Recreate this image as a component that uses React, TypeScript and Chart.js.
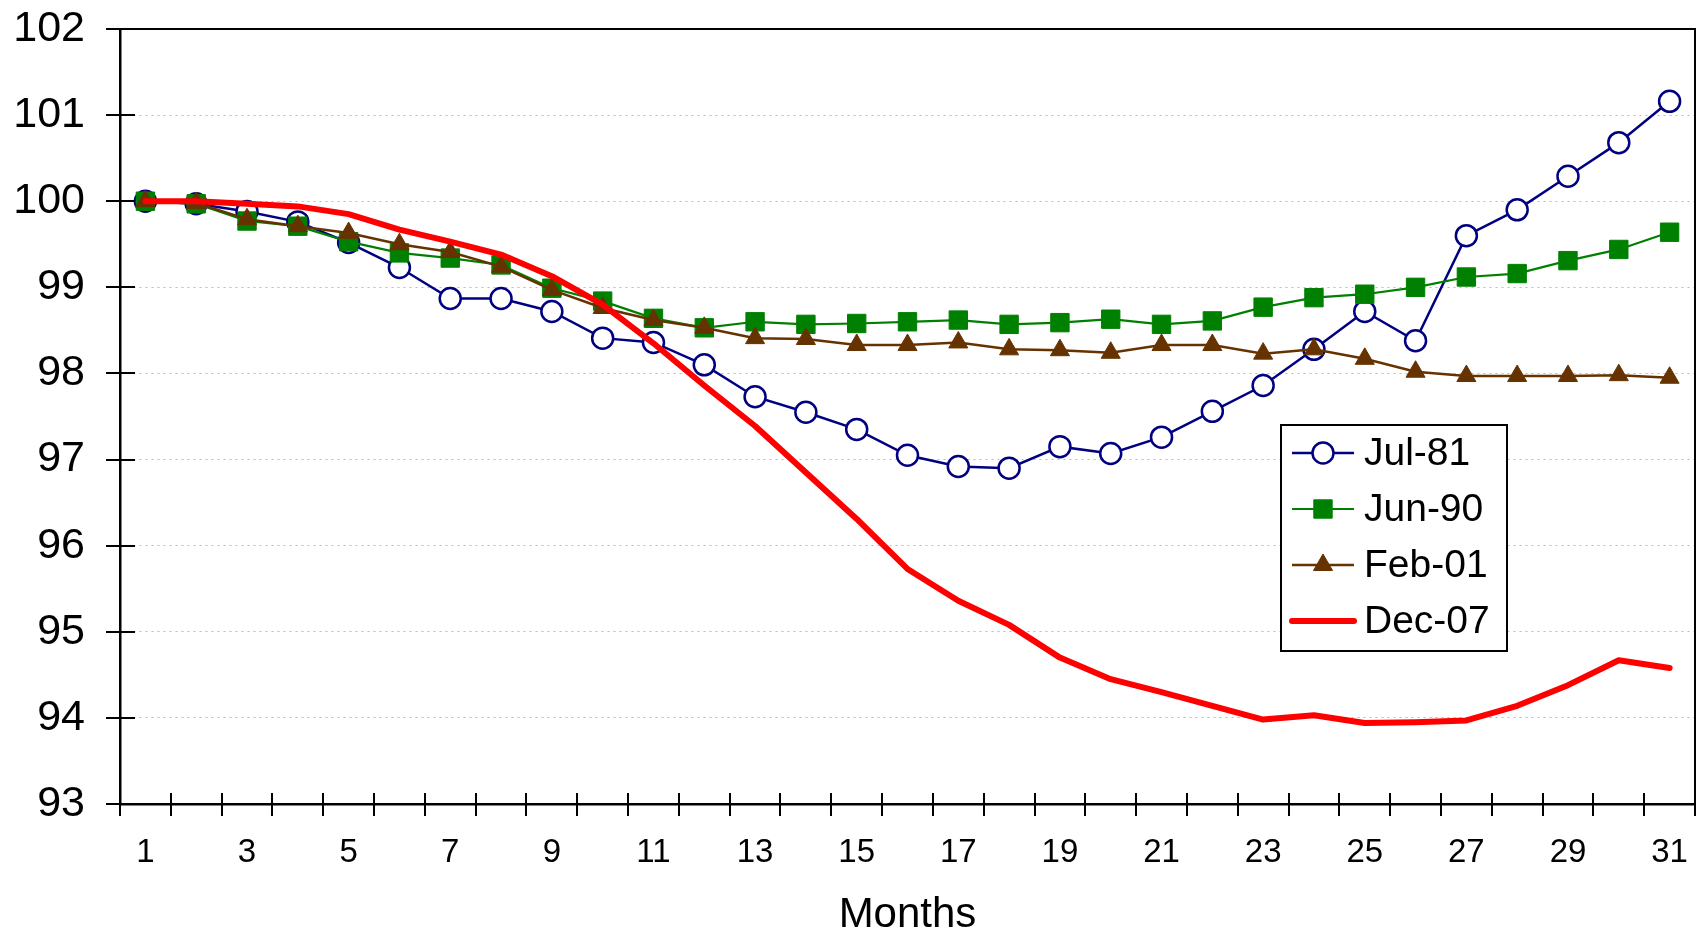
import React, { useEffect, useRef } from 'react';
import { Chart, registerables } from 'chart.js';
import { drawPoint } from 'chart.js/helpers';

Chart.register(...registerables);

const months = ['1','2','3','4','5','6','7','8','9','10','11','12','13','14','15','16','17','18','19','20','21','22','23','24','25','26','27','28','29','30','31'];

const seriesNames = ['Jul-81', 'Jun-90', 'Feb-01', 'Dec-07'];

const jul81 = [100, 99.97, 99.88, 99.76, 99.52, 99.23, 98.87, 98.87, 98.72, 98.41, 98.36, 98.10, 97.73, 97.55, 97.35, 97.05, 96.92, 96.90, 97.15, 97.07, 97.26, 97.56, 97.86, 98.28, 98.72, 98.38, 99.60, 99.90, 100.29, 100.68, 101.16];
const jun90 = [100, 99.97, 99.77, 99.71, 99.53, 99.40, 99.34, 99.26, 98.99, 98.84, 98.64, 98.53, 98.60, 98.57, 98.58, 98.60, 98.62, 98.57, 98.59, 98.63, 98.57, 98.61, 98.77, 98.88, 98.92, 99.00, 99.12, 99.16, 99.31, 99.44, 99.64];
const feb01 = [100, 99.98, 99.79, 99.71, 99.63, 99.50, 99.41, 99.24, 98.97, 98.76, 98.62, 98.53, 98.41, 98.40, 98.33, 98.33, 98.36, 98.28, 98.27, 98.24, 98.33, 98.33, 98.23, 98.28, 98.17, 98.02, 97.97, 97.97, 97.97, 97.98, 97.95];
const dec07 = [100, 100, 99.97, 99.94, 99.85, 99.67, 99.53, 99.38, 99.13, 98.80, 98.35, 97.86, 97.39, 96.85, 96.31, 95.73, 95.36, 95.08, 94.70, 94.45, 94.30, 94.14, 93.98, 94.03, 93.94, 93.95, 93.97, 94.14, 94.38, 94.67, 94.58];

const yMin = 93;
const yMax = 102;
const xTitle = 'Months';

const FONT = "'Liberation Sans', Arial, Helvetica, sans-serif";

const framePlugin = {
  id: 'frame',
  afterDatasetsDraw(chart: any) {
    const { ctx, chartArea: a, scales } = chart;
    const x = scales.x;
    const y = scales.y;
    ctx.save();
    ctx.strokeStyle = '#000';
    ctx.lineWidth = 2;
    ctx.beginPath();
    ctx.moveTo(a.left, a.top);
    ctx.lineTo(a.right, a.top);
    ctx.lineTo(a.right, a.bottom);
    ctx.stroke();
    ctx.beginPath();
    y.ticks.forEach((t: any) => {
      const py = Math.round(y.getPixelForValue(t.value));
      ctx.moveTo(a.left - 14, py);
      ctx.lineTo(a.left + 15, py);
    });
    const n = months.length;
    for (let i = 0; i <= n; i++) {
      const px = Math.round(x.getPixelForValue(i - 0.5));
      ctx.moveTo(px, a.bottom + 12);
      ctx.lineTo(px, a.bottom - 11);
    }
    ctx.stroke();
    ctx.restore();
  },
  afterDraw(chart: any) {
    const { ctx } = chart;
    ctx.save();
    const bx = 1281, by = 425, bw = 226, bh = 226;
    ctx.fillStyle = '#fff';
    ctx.fillRect(bx, by, bw, bh);
    ctx.strokeStyle = '#000';
    ctx.lineWidth = 2;
    ctx.strokeRect(bx, by, bw, bh);
    chart.data.datasets.forEach((ds: any, i: number) => {
      const cy = 453 + i * 56;
      ctx.save();
      ctx.strokeStyle = ds.borderColor;
      ctx.lineWidth = ds.borderWidth;
      ctx.lineCap = ds.pointRadius > 0 ? 'butt' : 'round';
      ctx.beginPath();
      ctx.moveTo(1292, cy);
      ctx.lineTo(1354, cy);
      ctx.stroke();
      if (ds.pointRadius > 0) {
        ctx.fillStyle = ds.pointBackgroundColor;
        ctx.strokeStyle = ds.pointBorderColor;
        ctx.lineWidth = ds.pointBorderWidth;
        drawPoint(ctx, { pointStyle: ds.pointStyle, rotation: 0, radius: ds.pointRadius, borderWidth: ds.pointBorderWidth }, 1323, cy);
      }
      ctx.restore();
      ctx.fillStyle = '#000';
      ctx.font = `39px ${FONT}`;
      ctx.textBaseline = 'middle';
      ctx.textAlign = 'left';
      ctx.fillText(ds.label, 1364, cy + 1);
    });
    ctx.restore();
  },
};

export default function App() {
  const ref = useRef<HTMLCanvasElement | null>(null);

  useEffect(() => {
    document.body.style.margin = '0';
    const canvas = ref.current;
    if (!canvas) return;
    const chart = new Chart(canvas, {
      type: 'line',
      data: {
        labels: months,
        datasets: [
          {
            label: seriesNames[0],
            data: jul81,
            borderColor: '#000080',
            borderWidth: 2.5,
            pointStyle: 'circle',
            pointRadius: 10.5,
            pointBackgroundColor: '#ffffff',
            pointBorderColor: '#000080',
            pointBorderWidth: 2.5,
            tension: 0,
            order: 3,
          },
          {
            label: seriesNames[1],
            data: jun90,
            borderColor: '#008000',
            borderWidth: 2.2,
            pointStyle: 'rect',
            pointRadius: 13,
            pointBackgroundColor: '#008000',
            pointBorderColor: '#008000',
            pointBorderWidth: 1,
            tension: 0,
            order: 2,
          },
          {
            label: seriesNames[2],
            data: feb01,
            borderColor: '#663300',
            borderWidth: 2.5,
            pointStyle: 'triangle',
            pointRadius: 11,
            pointBackgroundColor: '#663300',
            pointBorderColor: '#663300',
            pointBorderWidth: 1,
            tension: 0,
            order: 1,
          },
          {
            label: seriesNames[3],
            data: dec07,
            borderColor: '#ff0000',
            borderWidth: 6,
            pointRadius: 0,
            pointHoverRadius: 0,
            borderCapStyle: 'round',
            borderJoinStyle: 'round',
            tension: 0,
            order: 0,
          },
        ],
      },
      options: {
        responsive: false,
        animation: false,
        devicePixelRatio: 1,
        layout: { autoPadding: false, padding: { top: 29, right: 9, bottom: 0, left: 0 } },
        font: { family: FONT },
        plugins: {
          legend: { display: false },
          tooltip: { enabled: false },
          title: { display: false },
        },
        scales: {
          x: {
            type: 'category',
            offset: true,
            grid: {
              offset: true,
              drawOnChartArea: false,
              drawTicks: true,
              tickLength: 29,
              tickColor: 'rgba(0,0,0,0)',
              color: 'rgba(0,0,0,0)',
            },
            border: { display: true, color: '#000', width: 2.5 },
            ticks: {
              autoSkip: false,
              maxRotation: 0,
              minRotation: 0,
              padding: 0,
              color: '#000',
              font: { family: FONT, size: 33 },
              callback: (_v: any, i: number) => (i % 2 === 0 ? months[i] : ''),
            },
            title: {
              display: true,
              text: xTitle,
              color: '#000',
              font: { family: FONT, size: 42, lineHeight: 0.94 },
              padding: { top: 0, bottom: 0 },
            },
            afterFit: (s: any) => {
              s.height = 131;
              s.paddingLeft = 0;
              s.paddingRight = 0;
            },
          },
          y: {
            min: yMin,
            max: yMax,
            grid: {
              color: '#b8b8b8',
              lineWidth: 1,
              drawTicks: true,
              tickLength: 35,
              tickColor: 'rgba(0,0,0,0)',
            },
            border: { display: true, color: '#000', width: 2.5, dash: [2, 4] },
            ticks: {
              stepSize: 1,
              padding: 0,
              color: '#000',
              font: { family: FONT, size: 43 },
            },
            afterFit: (s: any) => { s.width = 120; },
          },
        },
      },
      plugins: [framePlugin],
    });
    return () => chart.destroy();
  }, []);

  return (
    <div style={{ width: 1704, height: 935 }}>
      <canvas ref={ref} width={1704} height={935} style={{ display: 'block' }} />
    </div>
  );
}
